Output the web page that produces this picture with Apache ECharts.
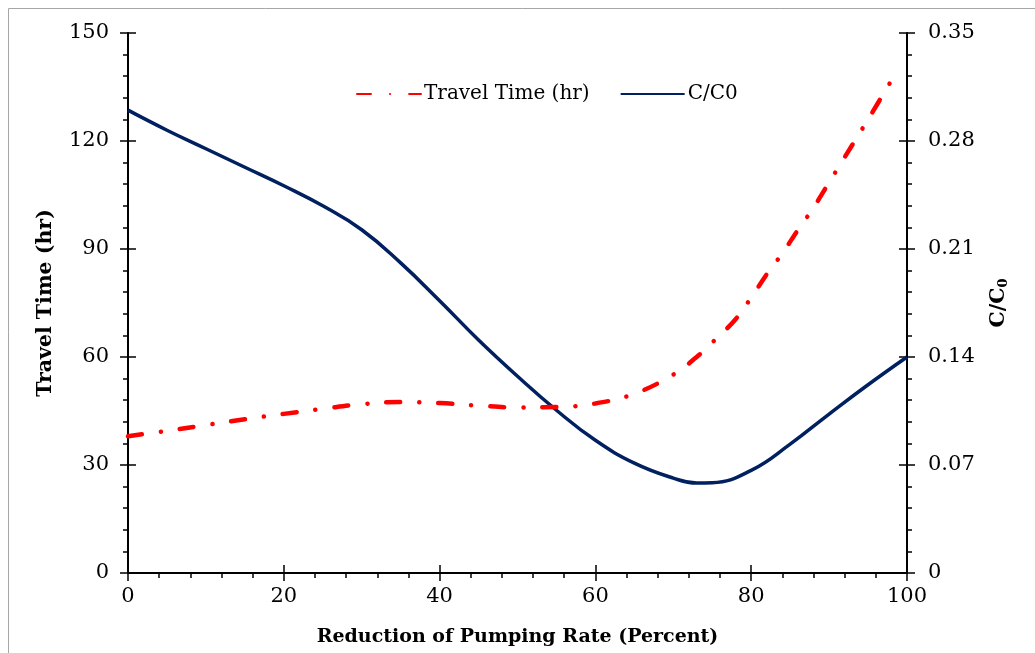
<!DOCTYPE html>
<html><head><meta charset="utf-8">
<script src="https://cdn.jsdelivr.net/npm/echarts@6/dist/echarts.min.js"></script>
<style>html,body{margin:0;padding:0;background:#fff}#c{width:1035px;height:653px}</style>
</head><body><div id="c"></div>
<script>
const FONT = 'DejaVu Serif';
const xPercent = [0, 5, 10, 15, 20, 25, 30, 35, 40, 45, 50, 55, 60, 65, 70, 73, 75, 78, 80, 82, 84, 86, 88, 90, 92, 95, 98.6];
const travelTime = [38, 39.5, 41.1, 42.7, 44.2, 45.6, 46.9, 47.5, 47.2, 46.5, 46.0, 46.1, 47.1, 49.8, 55.1, 60, 64, 70.5, 76.5, 83, 88.8, 95.3, 101.5, 108.5, 115.5, 126, 139];
const ccX = [0, 5, 10, 15, 20, 25, 30, 35, 40, 45, 50, 55, 60, 65, 70, 73, 75, 80, 85, 90, 95, 100];
const cc = [0.300, 0.287, 0.275, 0.263, 0.251, 0.238, 0.2225, 0.201, 0.1765, 0.151, 0.1275, 0.1055, 0.086, 0.0712, 0.0615, 0.0583, 0.0585, 0.0665, 0.0835, 0.103, 0.122, 0.140];
const leftTicks = {min: 0, max: 150, interval: 30};
const rightTicks = {min: 0, max: 0.35, interval: 0.07};
const xTicks = {min: 0, max: 100, interval: 20};

const chart = echarts.init(document.getElementById('c'));
const axisLine = {show: true, onZero: false, lineStyle: {color: '#000', width: 2}};
const lbl = {color: '#000', fontFamily: FONT, fontSize: 21};
const tick = {show: true, length: 8, lineStyle: {color: '#000', width: 1.5}};
const tickIn = {show: true, inside: true, length: 8, lineStyle: {color: '#000', width: 1.5}};
const minor = {show: true, splitNumber: 5, length: 5, lineStyle: {color: '#000', width: 1.5}};
const grid = {left: 128, right: 128, top: 33, bottom: 80};
chart.setOption({
  animation: false,
  graphic: [{type: 'rect', shape: {x: 8.5, y: 8.5, width: 1100, height: 700}, style: {fill: 'none', stroke: '#a6a6a6', lineWidth: 1}, z: -1}],
  grid: grid,
  legend: {
    left: 351, top: 79, itemWidth: 64, itemHeight: 10, itemGap: 30,
    itemStyle: {opacity: 0},
    textStyle: {color: '#000', fontFamily: FONT, fontSize: 20, padding: [0, 0, 0, -2]},
    data: ['Travel Time (hr)', 'C/C0']
  },
  xAxis: [{
    type: 'value', min: xTicks.min, max: xTicks.max, interval: xTicks.interval,
    axisLine: axisLine, splitLine: {show: false},
    axisTick: tick, minorTick: minor,
    axisLabel: Object.assign({margin: 13}, lbl),
    name: 'Reduction of Pumping Rate (Percent)', nameLocation: 'middle', nameGap: 55,
    nameTextStyle: {color: '#000', fontFamily: FONT, fontSize: 19, fontWeight: 'bold'}
  }, {
    type: 'value', position: 'bottom', min: xTicks.min, max: xTicks.max, interval: xTicks.interval,
    axisLine: {show: false, onZero: false}, splitLine: {show: false}, axisLabel: {show: false},
    axisTick: tickIn
  }],
  yAxis: [{
    type: 'value', position: 'left', min: leftTicks.min, max: leftTicks.max, interval: leftTicks.interval,
    axisLine: axisLine, splitLine: {show: false},
    axisTick: tick, minorTick: minor,
    axisLabel: Object.assign({margin: 19}, lbl),
    name: 'Travel Time (hr)', nameLocation: 'middle', nameGap: 72, nameRotate: 90,
    nameTextStyle: {color: '#000', fontFamily: FONT, fontSize: 20.5, fontWeight: 'bold'}
  }, {
    type: 'value', position: 'right', min: rightTicks.min, max: rightTicks.max, interval: rightTicks.interval,
    axisLine: axisLine, splitLine: {show: false},
    axisTick: tick, minorTick: minor,
    axisLabel: Object.assign({margin: 21, formatter: v => v === 0 ? '0' : v.toFixed(2)}, lbl),
    name: '{a|C/C}{s|0}', nameLocation: 'middle', nameGap: 80, nameRotate: 90,
    nameTextStyle: {rich: {
      a: {color: '#000', fontFamily: FONT, fontSize: 20.5, fontWeight: 'bold'},
      s: {color: '#000', fontFamily: FONT, fontSize: 13, fontWeight: 'bold', padding: [10, 0, 0, 0]}
    }}
  }, {
    type: 'value', position: 'left', min: leftTicks.min, max: leftTicks.max, interval: leftTicks.interval,
    axisLine: {show: false, onZero: false}, splitLine: {show: false}, axisLabel: {show: false},
    axisTick: tickIn
  }, {
    type: 'value', position: 'right', min: rightTicks.min, max: rightTicks.max, interval: rightTicks.interval,
    axisLine: {show: false, onZero: false}, splitLine: {show: false}, axisLabel: {show: false},
    axisTick: tickIn
  }],
  series: [{
    name: 'Travel Time (hr)', type: 'line', xAxisIndex: 0, yAxisIndex: 0, smooth: 0.4, symbol: 'none',
    data: xPercent.map((x, i) => [x, travelTime[i]]),
    lineStyle: {color: '#ff0000', width: 4.5, type: [14, 19, 0.1, 19], cap: 'round'},
    itemStyle: {color: '#ff0000'}, z: 3
  }, {
    name: 'C/C0', type: 'line', xAxisIndex: 0, yAxisIndex: 1, smooth: 0.45, symbol: 'none',
    data: ccX.map((x, i) => [x, cc[i]]),
    lineStyle: {color: '#002060', width: 3.5},
    itemStyle: {color: '#002060'}, z: 2
  }]
});
</script></body></html>
